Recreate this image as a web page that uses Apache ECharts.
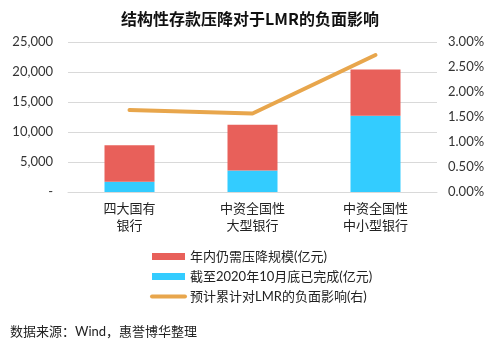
<!DOCTYPE html>
<html>
<head>
<meta charset="utf-8">
<script src="https://cdn.jsdelivr.net/npm/echarts@6/dist/echarts.min.js"></script>
<style>
  html, body { margin: 0; padding: 0; background: #fff; }
  #chart { width: 500px; height: 343px; }
</style>
</head>
<body>
<div id="chart"></div>
<script>
// Bank groups (two-line labels)
const categories = ['四大国有\n银行', '中资全国性\n大型银行', '中资全国性\n中小型银行'];
// Completed reduction by end of Oct 2020 (100 million yuan)
const completed = [1700, 3600, 12700];
// Remaining reduction still needed within the year (100 million yuan)
const remaining = [6100, 7600, 7700];
// Expected cumulative negative impact on LMR (right axis, ratio)
const lmrImpact = [0.0164, 0.0157, 0.0274];
// Tick labels
const leftTicks = ['-', '5,000', '10,000', '15,000', '20,000', '25,000'];
const rightTicks = ['0.00%', '0.50%', '1.00%', '1.50%', '2.00%', '2.50%', '3.00%'];

const seriesNames = ['年内仍需压降规模(亿元)', '截至2020年10月底已完成(亿元)', '预计累计对LMR的负面影响(右)'];
const RED = '#E8605A', BLUE = '#33CCFF', ORANGE = '#E8A64C';
const FONT = 'Lato, "Noto Sans CJK SC", sans-serif';

const chart = echarts.init(document.getElementById('chart'), null, { renderer: 'canvas' });
chart.setOption({
  animation: false,
  textStyle: { fontFamily: FONT },
  title: {
    text: '结构性存款压降对于LMR的负面影响',
    left: 'center', top: 6,
    textStyle: { fontSize: 16, fontWeight: 'bold', color: '#111', fontFamily: '"Noto Sans CJK SC", Lato, sans-serif' }
  },
  grid: { left: 68, right: 63, top: 42, bottom: 151, containLabel: false },
  legend: {
    orient: 'vertical', left: 145, top: 245, itemWidth: 33, itemHeight: 7, itemGap: 7,
    textStyle: { fontSize: 13, color: '#222', fontFamily: FONT },
    data: [
      { name: seriesNames[0], icon: 'rect' },
      { name: seriesNames[1], icon: 'rect' },
      { name: seriesNames[2], itemStyle: { opacity: 0 }, lineStyle: { width: 4, cap: 'round' } }
    ]
  },
  xAxis: {
    type: 'category', data: categories,
    axisTick: { show: false },
    axisLine: { lineStyle: { color: '#D9D9D9', width: 1 } },
    axisLabel: { fontSize: 13, color: '#222', lineHeight: 17, margin: 8, fontFamily: '"Noto Sans CJK SC", sans-serif' }
  },
  yAxis: [
    {
      type: 'value', min: 0, max: 25000, interval: 5000,
      axisLine: { show: false }, axisTick: { show: false },
      splitLine: { lineStyle: { color: '#D9D9D9', width: 1 } },
      axisLabel: { fontSize: 13, color: '#333', margin: 15,
        formatter: v => leftTicks[Math.round(v / 5000)] }
    },
    {
      type: 'value', min: 0, max: 0.03, interval: 0.005,
      axisLine: { show: false }, axisTick: { show: false }, splitLine: { show: false },
      axisLabel: { fontSize: 13, color: '#333', margin: 11,
        formatter: v => rightTicks[Math.round(v / 0.005)] }
    }
  ],
  series: [
    { name: seriesNames[1], type: 'bar', stack: 'total', data: completed, barWidth: 50,
      itemStyle: { color: BLUE } },
    { name: seriesNames[0], type: 'bar', stack: 'total', data: remaining, barWidth: 50,
      itemStyle: { color: RED } },
    { name: seriesNames[2], type: 'line', yAxisIndex: 1, data: lmrImpact,
      symbol: 'none', lineStyle: { color: ORANGE, width: 4, cap: 'round' }, itemStyle: { color: ORANGE } }
  ],
  graphic: [{
    type: 'text', left: 10, top: 325,
    style: { text: '数据来源：Wind，惠誉博华整理', fontSize: 13, fill: '#222', fontFamily: FONT }
  }]
});
</script>
</body>
</html>
